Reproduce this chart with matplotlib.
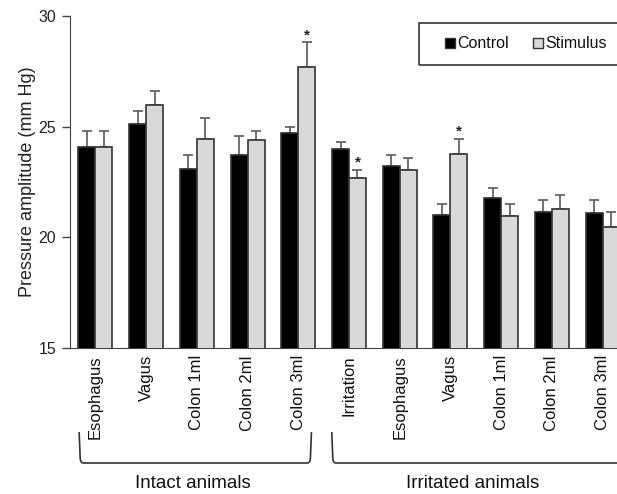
import matplotlib
matplotlib.use("Agg")
import matplotlib.pyplot as plt
import numpy as np
from matplotlib.patches import Patch, PathPatch, Rectangle
from matplotlib.path import Path
import matplotlib.transforms as mtransforms

plt.rcParams['font.family'] = ['Liberation Sans', 'DejaVu Sans']

categories = ["Esophagus", "Vagus", "Colon 1ml", "Colon 2ml", "Colon 3ml",
              "Irritation", "Esophagus", "Vagus", "Colon 1ml", "Colon 2ml", "Colon 3ml"]
control = [24.07, 25.10, 23.08, 23.71, 24.72, 24.00, 23.20, 20.99, 21.80, 21.16, 21.10]
control_err = [0.73, 0.58, 0.63, 0.87, 0.25, 0.29, 0.51, 0.51, 0.45, 0.51, 0.57]
stimulus = [24.07, 25.96, 24.46, 24.40, 27.70, 22.66, 23.06, 23.75, 20.98, 21.26, 20.45]
stimulus_err = [0.73, 0.64, 0.91, 0.40, 1.12, 0.40, 0.53, 0.71, 0.52, 0.65, 0.71]
significant = [4, 5, 7]
groups = ["Intact animals", "Irritated animals"]
yticks = [15, 20, 25, 30]

W, H = 617, 494
fig = plt.figure(figsize=(W / 100, H / 100), dpi=100)
ax_left, ax_right = 70 / W, 628 / W
ax_bottom, ax_top = 1 - 348.3 / H, 1 - 15.7 / H
ax = fig.add_axes([ax_left, ax_bottom, ax_right - ax_left, ax_top - ax_bottom])

x = np.arange(len(categories))
w = 0.335
edge = "#333333"
ax.bar(x - w / 2, control, w, color="black", edgecolor=edge, linewidth=1.2, zorder=3, label="Control")
ax.bar(x + w / 2, stimulus, w, color="#d9d9d9", edgecolor=edge, linewidth=1.2, zorder=3, label="Stimulus")
z = np.zeros(len(x))
ax.errorbar(x - w / 2, control, yerr=[z, control_err], fmt="none", ecolor="#666666",
            elinewidth=1.3, capsize=3.5, capthick=1.3, zorder=2)
ax.errorbar(x + w / 2, stimulus, yerr=[z, stimulus_err], fmt="none", ecolor="#666666",
            elinewidth=1.3, capsize=3.5, capthick=1.3, zorder=2)
for i in significant:
    ax.text(x[i] + w / 2, stimulus[i] + stimulus_err[i] + 0.3, "*", ha="center", va="center",
            fontsize=11, fontweight="bold", color="#222222")

ax.set_xlim(-0.5, len(categories) - 0.5)
ax.set_ylim(15, 30)
ax.set_yticks(yticks)
ax.set_yticklabels([str(t) for t in yticks], fontsize=11.5, color="#222222")
ax.set_xticks(x)
ax.set_xticklabels(categories, rotation=90, fontsize=12, va="top", ha="center", color="#111111")
ax.tick_params(axis="x", length=0, pad=5)
ax.tick_params(axis="y", length=6, width=1, color="#444444", pad=4)
ax.spines["top"].set_visible(False)
ax.spines["right"].set_visible(False)
ax.spines["left"].set_color("#444444")
ax.spines["bottom"].set_color("#444444")
ax.set_ylabel("Pressure amplitude (mm Hg)", fontsize=13, color="#222222", labelpad=2)

# legend
handles = [Patch(facecolor="black", edgecolor=edge), Patch(facecolor="#d9d9d9", edgecolor=edge)]
leg = fig.legend(handles, ["Control", "Stimulus"], loc="center left",
                 bbox_to_anchor=(445 / W, 1 - 44 / H), ncol=2, fontsize=11.5,
                 frameon=False, handlelength=0.62, handleheight=0.62, handletextpad=0.15,
                 columnspacing=1.5, borderpad=0, borderaxespad=0)
for t in leg.get_texts():
    t.set_color("#111111")
fig.add_artist(Rectangle((419 / W, 1 - 65 / H), 210 / W, 42 / H, transform=fig.transFigure,
                         fill=False, edgecolor="#333333", linewidth=1.2))

# brackets
trans = mtransforms.blended_transform_factory(ax.transData, fig.transFigure)
y_top = 1 - 432 / H
y_bot = 1 - 463 / H
brackets = [(-0.32, 4.26), (4.66, 10.9)]
for (x0, x1), name in zip(brackets, groups):
    dx, dy = 0.08, 0.012
    verts = [(x0, y_top), (x0 + 0.02, y_bot + dy), (x0 + 0.02, y_bot), (x0 + dx, y_bot),
             (x1 - dx, y_bot), (x1 - 0.02, y_bot), (x1 - 0.02, y_bot + dy), (x1, y_top)]
    codes = [Path.MOVETO, Path.LINETO, Path.CURVE3, Path.CURVE3,
             Path.LINETO, Path.CURVE3, Path.CURVE3, Path.LINETO]
    p = PathPatch(Path(verts, codes), transform=trans, fill=False, edgecolor="#333333",
                  linewidth=1.2, clip_on=False)
    fig.add_artist(p)
label_x = [1.92, 7.43]
for lx, name in zip(label_x, groups):
    fig.text(lx, 1 - 483 / H, name, transform=trans, ha="center", va="center",
             fontsize=13.5, color="#111111")

fig.savefig("out.png", dpi=100)
